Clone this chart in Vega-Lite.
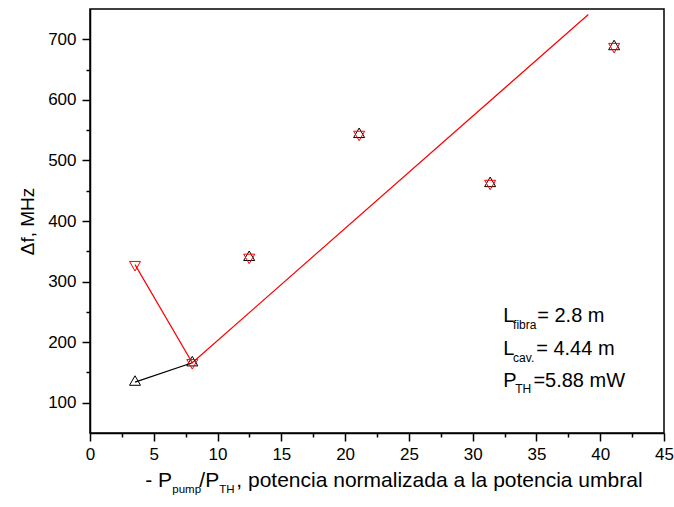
{
  "$schema": "https://vega.github.io/schema/vega-lite/v6.json",
  "width": 574,
  "height": 424,
  "autosize": "none",
  "padding": {"left": 90, "top": 9, "right": 10, "bottom": 74},
  "background": "white",
  "config": {
    "font": "Liberation Sans",
    "view": {"stroke": "black", "strokeWidth": 1.5},
    "axis": {
      "grid": false,
      "domainColor": "black",
      "domainWidth": 1.5,
      "tickColor": "black",
      "tickWidth": 1.5,
      "labelColor": "black",
      "labelFont": "Liberation Sans",
      "labelFontSize": 17,
      "labelOverlap": false,
      "labelFlush": false,
      "titleFont": "Liberation Sans",
      "titleFontWeight": "normal",
      "titleColor": "black"
    }
  },
  "datasets": {
    "up": [
      {"x": 3.53, "y": 134},
      {"x": 8.02, "y": 166},
      {"x": 12.48, "y": 340},
      {"x": 21.1, "y": 543},
      {"x": 31.37, "y": 462},
      {"x": 41.09, "y": 688}
    ],
    "down": [
      {"x": 3.53, "y": 328},
      {"x": 8.02, "y": 166},
      {"x": 12.48, "y": 340},
      {"x": 21.1, "y": 543},
      {"x": 31.37, "y": 462},
      {"x": 41.09, "y": 688}
    ],
    "blackLine": [
      {"x": 3.53, "y": 134},
      {"x": 8.02, "y": 166}
    ],
    "redLine": [
      {"x": 3.53, "y": 328},
      {"x": 8.02, "y": 166},
      {"x": 39.07, "y": 741}
    ],
    "annoMain": [
      {"x": 32.39, "y": 232.9, "t": "L"},
      {"x": 35.06, "y": 232.9, "t": "= 2.8 m"},
      {"x": 32.39, "y": 178.4, "t": "L"},
      {"x": 34.98, "y": 178.4, "t": "= 4.44 m"},
      {"x": 32.39, "y": 125.5, "t": "P"},
      {"x": 34.76, "y": 125.5, "t": "=5.88 mW"}
    ],
    "annoSub": [
      {"x": 33.17, "y": 221.3, "t": "fibra"},
      {"x": 33.17, "y": 166.8, "t": "cav."},
      {"x": 33.33, "y": 115.6, "t": "TH"}
    ],
    "titleMain": [
      {"x": 4.33, "y": -39.7, "t": "- P"},
      {"x": 8.57, "y": -39.7, "t": "/P"},
      {"x": 11.47, "y": -39.7, "t": ", potencia normalizada a la potencia umbral"}
    ],
    "titleSub": [
      {"x": 6.45, "y": -49.6, "t": "pump"},
      {"x": 10.13, "y": -49.6, "t": "TH"}
    ]
  },
  "encoding": {
    "x": {
      "field": "x",
      "type": "quantitative",
      "scale": {"domain": [0, 45], "nice": false, "zero": false},
      "axis": {
        "title": null,
        "values": [0, 2.5, 5, 7.5, 10, 12.5, 15, 17.5, 20, 22.5, 25, 27.5, 30, 32.5, 35, 37.5, 40, 42.5, 45],
        "labelExpr": "datum.value % 5 === 0 ? datum.label : ''",
        "tickSize": {"condition": {"test": "datum.value % 5 === 0", "value": 8}, "value": 4},
        "labelPadding": 5
      }
    },
    "y": {
      "field": "y",
      "type": "quantitative",
      "scale": {"domain": [50, 750], "nice": false, "zero": false},
      "axis": {
        "title": "Δf, MHz",
        "titleFontSize": 19,
        "titlePadding": 10,
        "values": [100, 150, 200, 250, 300, 350, 400, 450, 500, 550, 600, 650, 700],
        "labelExpr": "datum.value % 100 === 0 ? datum.label : ''",
        "tickSize": {"condition": {"test": "datum.value % 100 === 0", "value": 8}, "value": 4},
        "labelPadding": 6
      }
    }
  },
  "layer": [
    {
      "data": {"name": "blackLine"},
      "mark": {"type": "line", "color": "black", "strokeWidth": 1.2}
    },
    {
      "data": {"name": "redLine"},
      "mark": {"type": "line", "color": "#ff0000", "strokeWidth": 1.2}
    },
    {
      "data": {"name": "up"},
      "mark": {"type": "point", "shape": "M0,-1.155L-1,0.577L1,0.577Z", "filled": false, "stroke": "black", "strokeWidth": 1, "size": 121, "opacity": 1}
    },
    {
      "data": {"name": "down"},
      "mark": {"type": "point", "shape": "M0,1.155L-1,-0.577L1,-0.577Z", "filled": false, "stroke": "#ff0000", "strokeWidth": 1, "size": 121, "opacity": 1}
    },
    {
      "data": {"name": "annoMain"},
      "mark": {"type": "text", "align": "left", "baseline": "alphabetic", "fontSize": 20, "color": "black", "font": "Liberation Sans"},
      "encoding": {"text": {"field": "t"}}
    },
    {
      "data": {"name": "annoSub"},
      "mark": {"type": "text", "align": "left", "baseline": "alphabetic", "fontSize": 12, "color": "black", "font": "Liberation Sans"},
      "encoding": {"text": {"field": "t"}}
    },
    {
      "data": {"name": "titleMain"},
      "mark": {"type": "text", "align": "left", "baseline": "alphabetic", "fontSize": 21, "color": "black", "font": "Liberation Sans"},
      "encoding": {"text": {"field": "t"}}
    },
    {
      "data": {"name": "titleSub"},
      "mark": {"type": "text", "align": "left", "baseline": "alphabetic", "fontSize": 11.5, "color": "black", "font": "Liberation Sans"},
      "encoding": {"text": {"field": "t"}}
    }
  ]
}
